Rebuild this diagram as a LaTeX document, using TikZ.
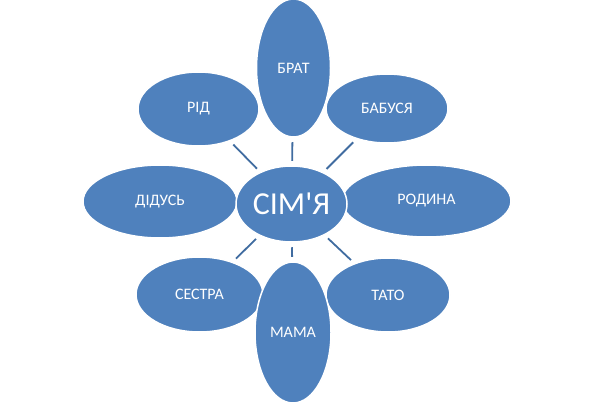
\documentclass[tikz,border=0pt]{standalone}
\usepackage{fontspec}
\setmainfont{Carlito}
\usetikzlibrary{shapes.geometric}
\definecolor{petalblue}{RGB}{79,129,189}
\definecolor{linkblue}{RGB}{64,108,160}
\tikzset{
  petal/.style={ellipse, draw=white, line width=1.5pt, fill=petalblue, inner sep=0pt,
    text=white, font=\fontsize{16}{18}\selectfont},
  hub/.style={petal, font=\fontsize{32}{36}\selectfont},
  link/.style={draw=linkblue, line width=1.8pt, shorten <=4.5pt, shorten >=4.5pt},
}

\begin{document}
\begin{tikzpicture}[x=1pt, y=-1pt]
\useasboundingbox (0,0) rectangle (594,406);

% ============================================================ side petals
\node[petal, minimum width=154pt, minimum height=73pt] (didus)   at (160.0, 201.5) {ДІДУСЬ};
\node[petal, minimum width=169pt, minimum height=72pt] (rodyna)  at (426.5, 201.0) {РОДИНА};
\node[petal, minimum width=121pt, minimum height=74pt] (rid)     at (198.5, 109.0) {РІД};
\node[petal, minimum width=122pt, minimum height=69pt] (babusia) at (387.0, 108.5) {БАБУСЯ};
\node[petal, minimum width=127pt, minimum height=75pt] (sestra)  at (199.5, 294.5) {СЕСТРА};
\node[petal, minimum width=124pt, minimum height=74pt] (tato)    at (388.0, 295.0) {ТАТО};

% ============================================================ tall petals
\node[petal, minimum width=74pt, minimum height=138pt] (brat) at (293.5, 68.0) {БРАТ};
\node[petal, minimum width=76pt, minimum height=141pt] (mama) at (293.0, 332.5) {МАМА};

% ============================================================ hub
\node[hub, minimum width=111pt, minimum height=76pt] (simia) at (291.5, 204.0) {СІМ\textquotesingle Я};

% ============================================================ links
\foreach \p in {rid, brat, babusia, sestra, mama, tato}
  \draw[link] (\p) -- (simia);

\end{tikzpicture}
\end{document}
